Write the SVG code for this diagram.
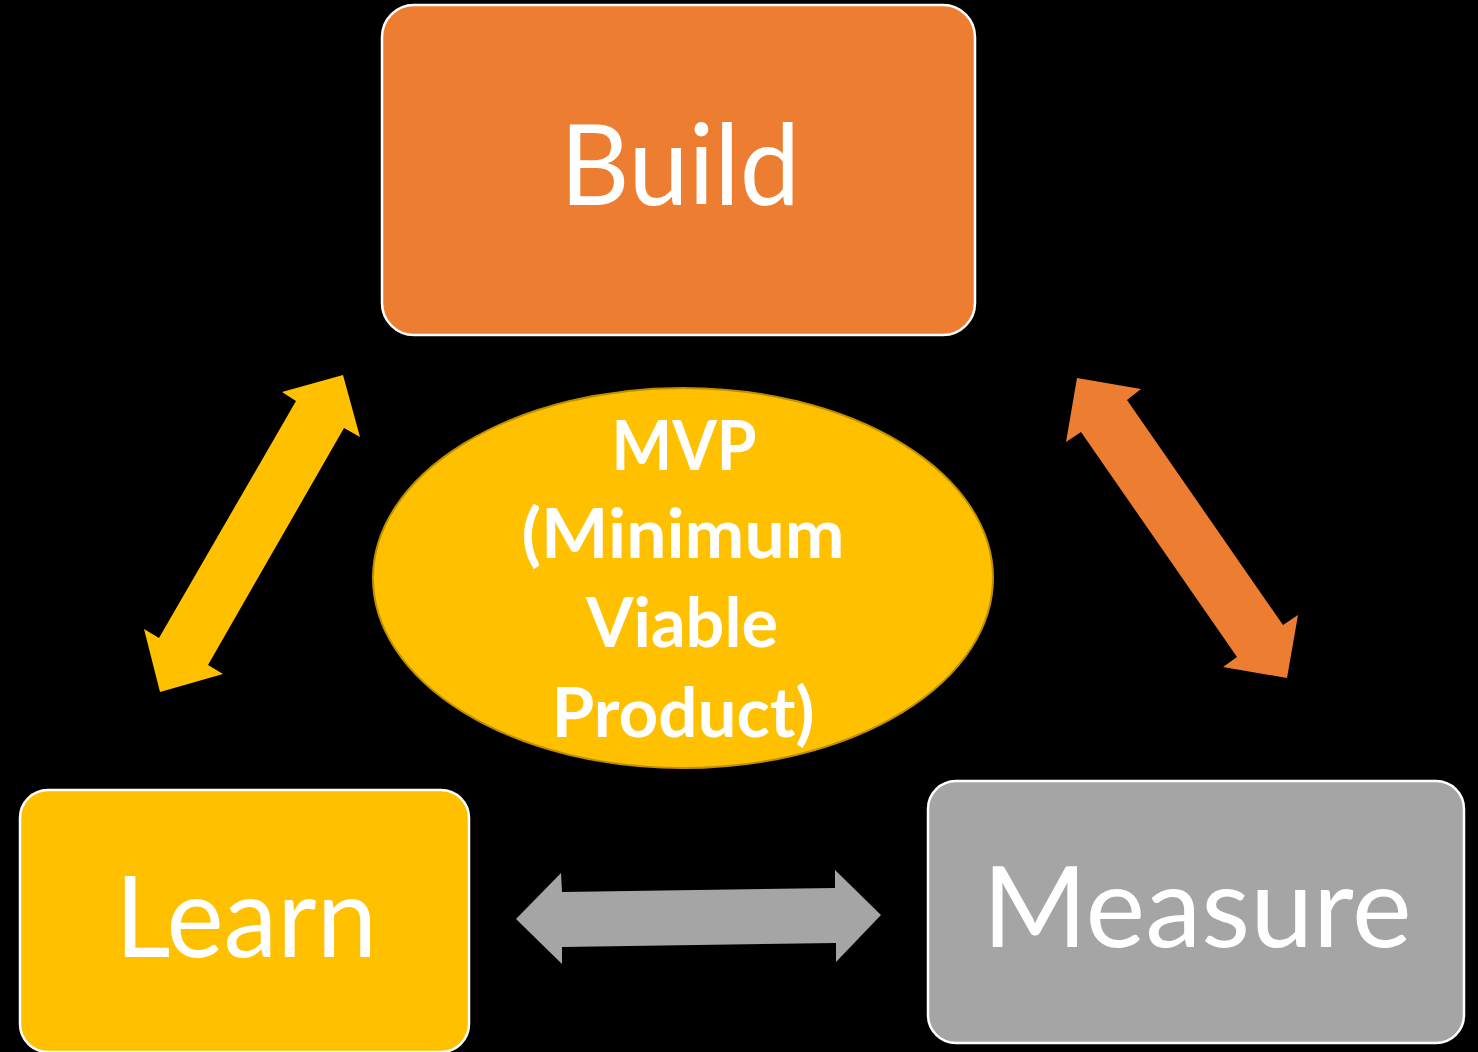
<svg xmlns="http://www.w3.org/2000/svg" width="1478" height="1052" viewBox="0 0 1478 1052">
<style>
.box{stroke:#FFFFFF;stroke-width:2.5}
.lbl{font-family:Lato,"Open Sans","Liberation Sans",sans-serif;fill:#FFFFFF;text-anchor:middle}
.big{font-size:112px}
.mvp{font-size:68px;font-weight:bold}
</style>
<rect x="0" y="0" width="1478" height="1052" fill="#000000"/>
<g id="connectors">
<polygon id="arrow-build-learn" fill="#FFC000" points="343,375 360,437 344,428 208,665 223,674 160,692 144,629 159,638 296,401 282,392"/>
<polygon id="arrow-build-measure" fill="#ED7D31" points="1077,378 1141,389 1127,400 1283,625 1298,615 1287,678 1223,667 1237,657 1081,432 1066,442"/>
<polygon id="arrow-learn-measure" fill="#A5A5A5" points="516,919 561,873 562,892 835,888 835,870 881,915 836,962 836,943 562,947 562,964"/>
</g>
<g id="build">
<rect class="box" x="382" y="5" width="593" height="330" rx="32" fill="#ED7D31"/>
<text class="lbl big" x="680" y="205" textLength="240" lengthAdjust="spacingAndGlyphs">Build</text>
</g>
<g id="learn">
<rect class="box" x="20" y="790" width="449" height="262" rx="28" fill="#FFC000"/>
<text class="lbl big" x="246" y="957" textLength="262" lengthAdjust="spacingAndGlyphs">Learn</text>
</g>
<g id="measure">
<rect class="box" x="928" y="781" width="536" height="262" rx="28" fill="#A5A5A5"/>
<text class="lbl big" x="1197" y="947" textLength="429" lengthAdjust="spacingAndGlyphs">Measure</text>
</g>
<g id="mvp">
<ellipse cx="683" cy="578" rx="310" ry="190" fill="#FFC000" stroke="#BF9000" stroke-width="2"/>
<text class="lbl mvp" x="684" y="470" textLength="145" lengthAdjust="spacingAndGlyphs">MVP</text>
<text class="lbl mvp" x="683" y="558" textLength="323" lengthAdjust="spacingAndGlyphs">(Minimum</text>
<text class="lbl mvp" x="682" y="647" textLength="192" lengthAdjust="spacingAndGlyphs">Viable</text>
<text class="lbl mvp" x="683" y="737" textLength="263" lengthAdjust="spacingAndGlyphs">Product)</text>
</g>
</svg>
